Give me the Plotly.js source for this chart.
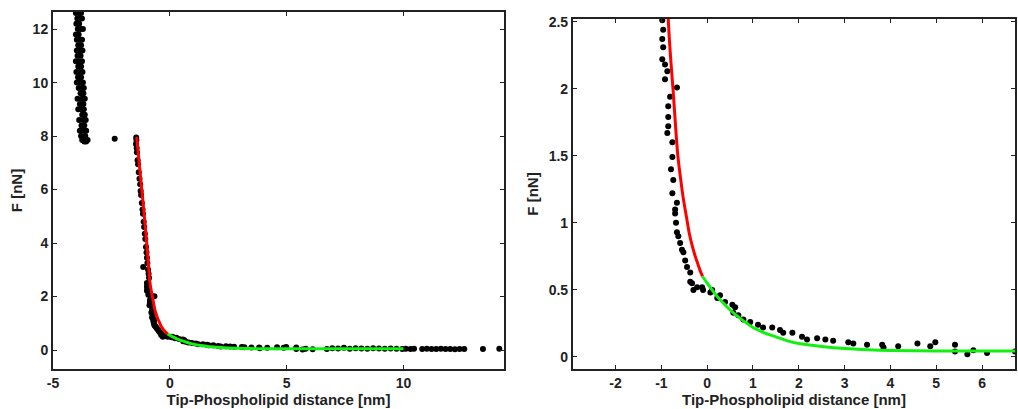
<!DOCTYPE html>
<html>
<head>
<meta charset="utf-8">
<script src="https://cdn.plot.ly/plotly-3.0.1.min.js"></script>
<style>html,body{margin:0;padding:0;background:#fff;}#chart{width:1018px;height:409px;}</style>
</head>
<body>
<div id="chart"></div>
<script>
// ---- Data ----
// Dense column of points at the contact region (left panel only)
const columnX = [-3.58,-3.66,-3.75,-3.52,-3.62,-3.80,-3.70,-3.58,-3.85,-3.66,-3.78,-3.72,-3.60,-3.88,-3.75,-3.64,
  -3.80,-3.68,-3.92,-3.70,-3.85,-3.76,-3.64,-3.95,-3.82,-3.70,-3.90,-3.76,-3.68,-3.98,-3.84,-3.72,-3.80,-3.93,
  -3.86,-3.74,-4.00,-3.92,-3.80,-3.88,-3.76,-4.02,-3.95,-3.82,-3.86,-3.98,-3.74,-3.92,-3.80,-3.98,-3.86,-3.76,
  -3.90,-4.02,-3.94,-3.82,-3.72,-3.88,-4.00,-3.96,-3.84,-3.76,-3.90,-4.02,-3.80,-3.86,-3.96];
const columnF = [7.80,7.80,7.85,7.85,8.00,8.00,8.20,8.20,8.20,8.40,8.40,8.60,8.60,8.60,8.80,8.80,
  9.00,9.00,9.00,9.20,9.20,9.40,9.40,9.40,9.60,9.60,9.80,9.80,9.80,10.00,10.00,10.00,10.20,10.20,
  10.40,10.40,10.40,10.60,10.60,10.80,10.80,10.80,11.00,11.00,11.20,11.20,11.20,11.40,11.40,11.60,11.60,11.60,
  11.80,11.80,12.00,12.00,12.00,12.20,12.20,12.40,12.40,12.40,12.60,12.60,12.60,12.75,12.75];

// Approach curve data points
const pointsX = [-2.36,
  -1.44,-1.43,-1.45,-1.42,-1.41,-1.38,-1.36,-1.33,-1.30,-1.27,-1.25,-1.23,-1.20,-1.17,-1.15,-1.12,-1.10,-1.07,
  -1.05,-1.02,-1.00,-0.98,-1.14,-0.96,-0.93,-0.91,-0.89,
  -0.98,-0.96,-0.98,-0.96,-0.98,-0.92,-0.87,-0.92,-0.66,-0.81,-0.85,-0.85,-0.85,-0.87,-0.76,-0.76,-0.79,-0.74,
  -0.76,-0.66,-0.70,-0.70,-0.68,-0.66,-0.63,-0.59,-0.55,-0.52,-0.48,-0.44,-0.37,-0.33,-0.37,-0.22,-0.30,-0.11,
  -0.09,0.07,0.11,0.22,0.28,0.39,0.55,0.61,0.57,0.68,0.79,0.94,1.11,1.22,1.42,1.59,1.66,1.86,2.07,2.18,2.40,
  2.58,2.75,3.08,3.19,3.49,3.82,3.85,4.17,4.59,4.87,4.98,5.41,5.41,5.68,5.81,6.11,6.72,
  6.95,7.20,7.45,7.70,7.95,8.20,8.45,8.70,8.95,9.20,9.45,9.70,9.95,
  10.10,10.30,10.45,10.80,11.00,11.20,11.40,11.60,11.80,12.00,12.20,12.40,12.60,13.40,14.10];
const pointsF = [7.90,
  7.95,7.85,7.70,7.55,7.40,7.10,6.95,6.65,6.40,6.20,5.95,5.80,5.50,5.25,5.10,4.80,4.60,4.35,
  4.15,3.85,3.65,3.45,3.10,3.25,3.00,2.85,2.70,
  2.51,2.44,2.37,2.31,2.22,2.18,2.13,2.07,2.01,1.94,1.87,1.79,1.72,1.67,1.60,1.49,1.40,1.32,
  1.22,1.15,1.10,1.07,1.00,0.93,0.90,0.85,0.80,0.78,0.72,0.67,0.63,0.55,0.56,0.52,0.50,0.52,
  0.50,0.48,0.50,0.44,0.46,0.41,0.39,0.37,0.33,0.31,0.28,0.26,0.24,0.22,0.22,0.20,0.18,0.18,0.15,0.13,0.14,
  0.13,0.12,0.11,0.10,0.09,0.09,0.07,0.08,0.10,0.08,0.11,0.09,0.04,0.02,0.05,0.03,0.04,
  0.07,0.06,0.08,0.05,0.07,0.06,0.05,0.07,0.06,0.05,0.06,0.05,0.04,
  0.05,0.04,0.05,0.04,0.05,0.04,0.04,0.05,0.04,0.04,0.03,0.04,0.04,0.04,0.05];

// Fit in the repulsive region (red)
const redX = [-1.42,-1.35,-1.25,-1.15,-1.05,-0.99,-0.92,-0.85,-0.80,-0.74,-0.69,-0.64,-0.58,-0.52,-0.45,-0.39,-0.32,-0.26,-0.20,-0.15,-0.10];
const redF = [7.96,7.35,6.45,5.55,4.60,4.00,3.25,2.52,2.24,1.97,1.72,1.50,1.33,1.18,1.04,0.92,0.82,0.75,0.69,0.64,0.60];

// Fit in the long-range region (green)
const greenX = [-0.10,0.00,0.15,0.30,0.50,0.75,1.00,1.25,1.50,1.75,2.00,2.50,3.00,3.50,4.00,5.00,6.00,7.00,8.00,9.00,10.00];
const greenF = [0.60,0.55,0.48,0.42,0.35,0.28,0.22,0.18,0.15,0.12,0.10,0.078,0.062,0.053,0.048,0.045,0.044,0.044,0.044,0.043,0.043];

// Axis ticks
const leftXTicks = [-5,0,5,10];
const leftYTicks = [0,2,4,6,8,10,12];
const rightXTicks = [-2,-1,0,1,2,3,4,5,6];
const rightYTicks = [0,0.5,1,1.5,2,2.5];
const xTitle = 'Tip-Phospholipid distance [nm]';
const yTitle = 'F [nN]';

// ---- Plot ----
const FONT = 'Liberation Sans, Arial, sans-serif';
const dot = {color:'#000', size:6};
const bold = v => v.map(t => '<b>' + t + '</b>');
const traces = [];
[['x','y'],['x2','y2']].forEach(([xa,ya], i) => {
  if (i === 0) traces.push({x:columnX, y:columnF, xaxis:xa, yaxis:ya, mode:'markers', type:'scatter', marker:dot, showlegend:false, hoverinfo:'skip'});
  traces.push({x:pointsX, y:pointsF, xaxis:xa, yaxis:ya, mode:'markers', type:'scatter', marker:dot, showlegend:false, hoverinfo:'skip'});
  traces.push({x:redX, y:redF, xaxis:xa, yaxis:ya, mode:'lines', type:'scatter', line:{color:'#ff0000', width:3, shape:'spline', smoothing:0.6}, showlegend:false});
  traces.push({x:greenX, y:greenF, xaxis:xa, yaxis:ya, mode:'lines', type:'scatter', line:{color:'#11f011', width:3, shape:'spline', smoothing:0.6}, showlegend:false});
});

function ax(ticks, extra){
  return Object.assign({
    showgrid:false, zeroline:false, showline:true, linecolor:'#222', linewidth:2,
    mirror:'ticks', ticks:'inside', ticklen:4, tickwidth:1, tickcolor:'#222',
    tickfont:{family:FONT, size:14, color:'#222'},
    tickmode:'array', tickvals:ticks, ticktext:bold(ticks), automargin:false
  }, extra);
}
const titleFont = {family:FONT, size:15, color:'#222'};

const layout = {
  width:1018, height:409,
  margin:{l:53, r:3, t:12, b:40},
  paper_bgcolor:'#fff', plot_bgcolor:'#fff',
  showlegend:false,
  xaxis: ax(leftXTicks, {domain:[0,0.4688], range:[-5,14.3], anchor:'y',
    title:{text:'<b>' + xTitle + '</b>', font:titleFont, standoff:3}}),
  yaxis: ax(leftYTicks, {domain:[0,1], range:[-0.71,12.64], anchor:'x',
    title:{text:'<b>' + yTitle + '</b>', font:titleFont, standoff:6}}),
  xaxis2: ax(rightXTicks, {domain:[0.5405,1], range:[-2.93,6.72], anchor:'y2',
    title:{text:'<b>' + xTitle + '</b>', font:titleFont, standoff:3}}),
  yaxis2: ax(rightYTicks, {domain:[0,0.9804], range:[-0.09,2.52], anchor:'x2',
    title:{text:'<b>' + yTitle + '</b>', font:titleFont, standoff:6}})
};

Plotly.newPlot('chart', traces, layout, {staticPlot:true, displayModeBar:false});
</script>
</body>
</html>
